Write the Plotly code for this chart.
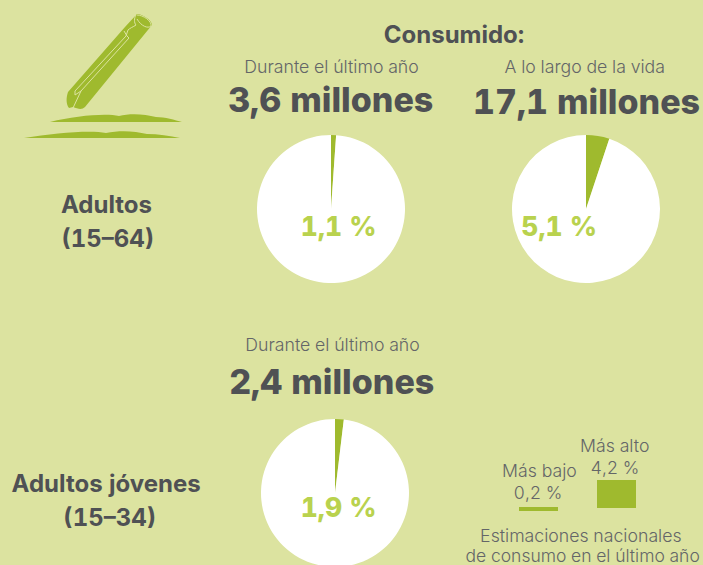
import plotly.graph_objects as go

W, H = 703, 640
BG = "#dce3a0"; GREEN = "#9fba2e"; LABEL = "#b9d24e"; DARK = "#4f5154"; GREY = "#646668"
HEAD = "Inter"; BODY = "Inter"

pie_names = ["Adultos último año", "Adultos vida", "Jóvenes último año"]
pie_values = [1.1, 5.1, 1.9]
pie_labels = ["1,1 %", "5,1 %", "1,9 %"]
pie_boxes = [(257, 135, 148), (512, 135, 148), (261, 419, 148)]
label_pos = [(338, 226), (558.5, 226), (338, 507)]

texts = [
    ("Consumido:", 454, 34, 24, DARK, True),
    ("Durante el último año", 331, 66, 17.7, GREY, False),
    ("A lo largo de la vida", 585, 66, 17.7, GREY, False),
    ("3,6 millones", 331, 99.5, 34, DARK, True),
    ("17,1 millones", 586, 101.5, 34, DARK, True),
    ("Adultos", 106, 204, 24, DARK, True),
    ("(15–64)", 107.5, 238, 24, DARK, True),
    ("Durante el último año", 332, 344, 17.7, GREY, False),
    ("2,4 millones", 332, 381, 34, DARK, True),
    ("Adultos jóvenes", 106, 483, 24, DARK, True),
    ("(15–34)", 109.5, 517, 24, DARK, True),
    ("Más alto", 615, 445, 17.7, GREY, False),
    ("4,2 %", 615, 467, 17.7, GREY, False),
    ("Más bajo", 539, 470, 17.7, GREY, False),
    ("0,2 %", 538, 492, 17.7, GREY, False),
    ("Estimaciones nacionales", 581, 535, 17.7, GREY, False),
    ("de consumo en el último año", 582, 555, 17.5, GREY, False),
]

fig = go.Figure()
for name, v, (x, y, d) in zip(pie_names, pie_values, pie_boxes):
    fig.add_trace(go.Pie(
        values=[v, 100 - v], labels=[name, "Resto"], sort=False, direction="clockwise", rotation=0,
        marker=dict(colors=[GREEN, "white"], line=dict(width=0)), textinfo="none", hoverinfo="skip",
        showlegend=False,
        domain=dict(x=[x / W, (x + d) / W], y=[1 - (y + d) / H, 1 - y / H]),
    ))

anns = []
for t, x, y, s, c, b in texts:
    anns.append(dict(text=t, x=x, y=y, xref="x", yref="y", showarrow=False,
                     xanchor="center", yanchor="middle",
                     font=dict(size=s, color=c, family=HEAD if b else BODY, weight=(800 if s > 30 else 700) if b else 300)))
for t, (x, y) in zip(pie_labels, label_pos):
    anns.append(dict(text=t, x=x, y=y, xref="x", yref="y", showarrow=False,
                     xanchor="center", yanchor="middle", font=dict(size=26.5, color=LABEL, family=HEAD, weight=800)))

def shape(path, color=GREEN):
    return dict(type="path", path=path, xref="x", yref="y", fillcolor=color, line=dict(width=0), layer="above")

def stroke(path):
    return dict(type="path", path=path, xref="x", yref="y", line=dict(width=1, color=BG), layer="above")

shapes = [
    shape("M137 14 C142 14 152 20 152 25 L85 107 C82 110 78 109 73 107 L69 108 C66 104 66 98 68 92 L125 27 Z"),
    stroke("M136 15 C134 18 134 23 136 25 C133 27 130 28 128 30 L126 36 L75 91 L75 95 L81 91 L73 108"),
    stroke("M124 31 L127 36 L129 38 L81 91"),
    stroke("M137 15 C143 15 152 21 151 26 C148 29 141 26 137 19"),
    shape("M50 122 C75 116 105 113 119 116 C130 113 145 114 156 117 C165 117 175 120 182 122 Z"),
    shape("M24 138 C55 133 90 130 106 133 C120 130 135 131 147 134 C158 134 170 136 180 138 Z"),
    dict(type="rect", x0=519, x1=558, y0=507, y1=511, xref="x", yref="y", fillcolor=GREEN, line=dict(width=0)),
    dict(type="rect", x0=597, x1=636, y0=480, y1=508, xref="x", yref="y", fillcolor=GREEN, line=dict(width=0)),
]

fig.update_layout(
    width=W, height=H, autosize=False, margin=dict(l=0, r=0, t=0, b=0),
    paper_bgcolor=BG, plot_bgcolor=BG, showlegend=False,
    xaxis=dict(range=[0, W], visible=False, fixedrange=True),
    yaxis=dict(range=[H, 0], visible=False, fixedrange=True),
    annotations=anns, shapes=shapes,
)
post = """
document.body.style.margin='0';
document.documentElement.style.overflow='hidden';
document.body.style.overflow='hidden';
document.body.style.background='#dce3a0';
var st=document.createElement('style');
st.textContent=".annotation-text{font-feature-settings:'tnum' 1;font-variant-numeric:tabular-nums;}";
document.head.appendChild(st);
"""
fig.write_html("out.html", config=dict(displayModeBar=False), post_script=post)
